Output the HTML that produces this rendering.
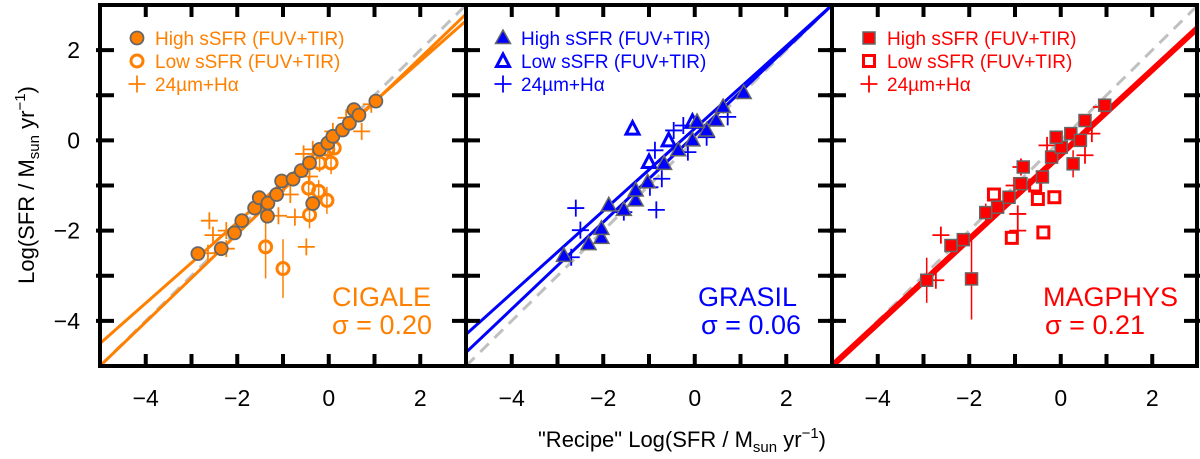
<!DOCTYPE html>
<html><head><meta charset="utf-8"><style>
body{margin:0;background:#fff;}
svg{display:block;font-family:"Liberation Sans",sans-serif;}
</style></head><body>
<svg id="chart" width="1200" height="459" viewBox="0 0 1200 459" xmlns="http://www.w3.org/2000/svg"></svg>
<script>
// ---- data ----
const xTicks = [-4, -3, -2, -1, 0, 1, 2];
const xTickLabels = ["\u22124", "", "\u22122", "", "0", "", "2"];
const yTicks = [-4, -3, -2, -1, 0, 1, 2];
const yTickLabels = ["\u22124", "", "\u22122", "", "0", "", "2"];
const panelNames = ["CIGALE", "GRASIL", "MAGPHYS"];
const panelSigma = ["0.20", "0.06", "0.21"];

const cigHighX = [-2.86,-2.35,-2.06,-1.9,-1.62,-1.52,-1.33,-1.34,-1.14,-1.03,-0.78,-0.6,-0.42,-0.2,-0.02,0.09,0.3,0.45,0.55,0.66,1.03,-0.35];
const cigHighY = [-2.51,-2.4,-2.05,-1.78,-1.5,-1.27,-1.39,-1.68,-1.2,-0.9,-0.86,-0.67,-0.5,-0.2,-0.06,0.09,0.23,0.38,0.68,0.56,0.87,-1.4];
const cigLowX = [-1.38,-1.0,-0.42,-0.44,-0.22,-0.04,0.05,-0.2,0.12,-0.02];
const cigLowY = [-2.36,-2.84,-1.65,-1.06,-1.13,-1.33,-0.5,-0.5,-0.17,-0.2];
const cigLowErr = [0.7,0.65,0.3,0.25,0.25,0.3,0.25,0.2,0.15,0.15];
const cigCrossX = [-2.61,-2.53,-2.24,-2.24,-2.64,-1.1,-0.74,-0.49,-0.84,-0.98,-0.55,-0.35,0.09,0.72,0.38,0.93,-0.42];
const cigCrossY = [-1.78,-2.1,-2.0,-2.4,-2.5,-1.67,-1.7,-2.36,-1.2,-0.95,-0.3,-0.2,0.2,0.2,0.5,0.8,-0.8];
const cigFitA = [-4.5, 2.65];
const cigFitB = [-5.0, 2.8];

const graHighX = [-2.86,-2.32,-2.04,-2.04,-1.88,-1.55,-1.29,-1.29,-1.03,-0.67,-0.36,-0.05,0.26,0.62,1.07,0.47,0.05];
const graHighY = [-2.56,-2.3,-2.16,-1.96,-1.44,-1.54,-1.33,-1.11,-0.93,-0.52,-0.22,0.0,0.22,0.74,1.05,0.44,0.41];
const graLowX = [-1.36,-1.0,-0.57,-0.05];
const graLowY = [0.26,-0.48,0.0,0.41];
const graLowErr = [0,0,0,0];
const graCrossX = [-2.6,-2.5,-2.7,-0.84,-0.98,-0.72,-0.87,-0.46,-0.25,0.26,0.72,-1.55,-0.15];
const graCrossY = [-1.5,-1.99,-2.59,-1.54,-1.04,-0.85,-0.22,0.22,0.33,0.07,0.52,-1.59,-0.26];
const graFitA = [-4.3, 3.0];
const graFitB = [-4.7, 3.0];

const magHighX = [-2.93,-2.4,-2.13,-1.95,-1.64,-1.38,-1.13,-0.87,-0.82,-0.4,-0.2,0.01,0.22,0.53,0.96,-0.1,0.43,0.27];
const magHighY = [-3.1,-2.33,-2.2,-3.07,-1.6,-1.48,-1.26,-0.96,-0.59,-0.81,-0.37,-0.15,0.15,0.44,0.78,0.07,0.0,-0.52];
const magHighErr = [0.5,0.1,0.1,0.9,0.2,0.15,0.15,0.15,0.1,0.15,0.1,0.1,0.1,0.1,0.1,0.1,0.1,0.3];
const magLowX = [-1.46,-1.07,-0.38,-0.5,-0.14,-0.56];
const magLowY = [-1.2,-2.16,-2.04,-1.3,-1.26,-1.0];
const magLowErr = [0,0,0,0,0,0];
const magCrossX = [-2.62,-2.73,-0.94,-0.94,-1.02,-0.87,0.53,0.68,0.89,-0.3];
const magCrossY = [-2.1,-3.1,-1.63,-2.0,-1.0,-0.59,-0.33,0.15,0.74,-0.11];
const magFitA = [-5.0, 2.5];

// ---- layout ----
const svg = document.getElementById('chart');
const NS = 'http://www.w3.org/2000/svg';
const panelLeft = [100, 466, 832];
const panelW = 366, top0 = 5, bot0 = 366;
const xMin = -5, xMax = 3, yMin = -5, yMax = 3;
const colors = ['#ff8000', '#0000ff', '#ff0000'];
function sx(p, v){ return panelLeft[p] + (v - xMin) / (xMax - xMin) * panelW; }
function sy(v){ return bot0 - (v - yMin) / (yMax - yMin) * (bot0 - top0); }
function mk(tag, attrs, parent){
  const e = document.createElementNS(NS, tag);
  for (const k in attrs) e.setAttribute(k, attrs[k]);
  (parent || svg).appendChild(e);
  return e;
}
const clip = mk('defs', {});
for (let p = 0; p < 3; p++){
  const cp = mk('clipPath', {id: 'clip' + p}, clip);
  mk('rect', {x: panelLeft[p], y: top0, width: panelW, height: bot0 - top0}, cp);
}

function drawShape(g, type, cx, cy, col){
  if (type === 'circleF') return mk('circle', {cx, cy, r: 6.5, fill: col, stroke: '#666', 'stroke-width': 1.8}, g);
  if (type === 'circleO') return mk('circle', {cx, cy, r: 6, fill: 'none', stroke: col, 'stroke-width': 3}, g);
  if (type === 'triF') return mk('polygon', {points: `${cx},${cy-8} ${cx-7.5},${cy+5.5} ${cx+7.5},${cy+5.5}`, fill: col, stroke: '#666', 'stroke-width': 1.5}, g);
  if (type === 'triO') return mk('polygon', {points: `${cx},${cy-7} ${cx-6.5},${cy+5.5} ${cx+6.5},${cy+5.5}`, fill: 'none', stroke: col, 'stroke-width': 3}, g);
  if (type === 'sqF') return mk('rect', {x: cx-6, y: cy-6, width: 12, height: 12, fill: col, stroke: '#666', 'stroke-width': 1.5}, g);
  if (type === 'sqO') return mk('rect', {x: cx-5.5, y: cy-5.5, width: 11, height: 11, fill: 'none', stroke: col, 'stroke-width': 3}, g);
  return mk('path', {d: `M${cx-8.5},${cy}H${cx+8.5}M${cx},${cy-8.5}V${cy+8.5}`, stroke: col, 'stroke-width': 1.8, fill: 'none'}, g);
}
function fitLine(g, p, ends, col, w){
  const e = mk('line', {x1: sx(p, xMin), y1: sy(ends[0]), x2: sx(p, xMax), y2: sy(ends[1]), stroke: col, 'stroke-width': w}, g);
  
  
}
function errBars(g, p, xs, ys, es, col){
  for (let i = 0; i < xs.length; i++){
    if (!es[i]) continue;
    const e = mk('line', {x1: sx(p, xs[i]), x2: sx(p, xs[i]), y1: sy(ys[i] - es[i]), y2: sy(ys[i] + es[i]), stroke: col, 'stroke-width': 1.5}, g);
    
    
  }
}
function series(g, p, xs, ys, type, col, name){
  for (let i = 0; i < xs.length; i++){
    const e = drawShape(g, type, sx(p, xs[i]), sy(ys[i]), col);
    
    
  }
}

const panelData = [
  {high: [cigHighX, cigHighY], low: [cigLowX, cigLowY, cigLowErr], cross: [cigCrossX, cigCrossY], fits: [cigFitA, cigFitB], types: ['circleF','circleO'], fitW: 3},
  {high: [graHighX, graHighY], low: [graLowX, graLowY, graLowErr], cross: [graCrossX, graCrossY], fits: [graFitA, graFitB], types: ['triF','triO'], fitW: 3},
  {high: [magHighX, magHighY], low: [magLowX, magLowY, magLowErr], cross: [magCrossX, magCrossY], fits: [magFitA], types: ['sqF','sqO'], fitW: 6}
];
const sigmaRight = [432, 801, 1145];
const nameRight = [431, 797, 1178];
const legX = [137, 503, 869];

for (let p = 0; p < 3; p++){
  const col = colors[p], d = panelData[p];
  const g = mk('g', {'clip-path': `url(#clip${p})`});
  
  
  const one = mk('line', {x1: sx(p, xMin), y1: sy(xMin), x2: sx(p, xMax), y2: sy(xMax), stroke: '#c0c0c0', 'stroke-width': 3, 'stroke-dasharray': '12,8'}, g);
  
  
  d.fits.forEach(f => fitLine(g, p, f, col, d.fitW));
  errBars(g, p, d.low[0], d.low[1], d.low[2], col);
  if (p === 2) errBars(g, p, magHighX, magHighY, magHighErr, col);
  series(g, p, d.cross[0], d.cross[1], 'cross', col, 'cross-point');
  series(g, p, d.low[0], d.low[1], d.types[1], col, 'low-ssfr-point');
  series(g, p, d.high[0], d.high[1], d.types[0], col, 'high-ssfr-point');

  xTicks.forEach((t, i) => {
    const x = sx(p, t);
    const tk = mk('path', {d: `M${x},${bot0+2}V${bot0-12}M${x},${top0-2}V${top0+12}`, stroke: '#000', 'stroke-width': 4});
    
    
    if (xTickLabels[i]){
      const tl = mk('text', {x, y: 406, 'font-size': 23, 'text-anchor': 'middle'});
      tl.textContent = xTickLabels[i];
      
      
    }
  });
  yTicks.forEach((t, i) => {
    const y = sy(t), L = panelLeft[p], R = L + panelW;
    const tk = mk('path', {d: `M${L-4},${y}H${L+14}M${R+4},${y}H${R-14}`, stroke: '#000', 'stroke-width': 4});
    
    
    if (p === 0 && yTickLabels[i]){
      const tl = mk('text', {x: 80, y: y + 8, 'font-size': 23, 'text-anchor': 'end'});
      tl.textContent = yTickLabels[i];
      
      
    }
  });
  const leg = mk('g', {});
  
  
  const labels = ['High sSFR (FUV+TIR)', 'Low sSFR (FUV+TIR)', '24\u00b5m+H\u03b1'];
  const types = [d.types[0], d.types[1], 'cross'];
  const rowY = [38, 61, 84];
  for (let r = 0; r < 3; r++){
    const m = drawShape(leg, types[r], legX[p], rowY[r], col);
    
    
    const t = mk('text', {x: legX[p] + 18, y: rowY[r] + 7, 'font-size': 19, fill: col}, leg);
    t.textContent = labels[r];
    
    
  }
  const nm = mk('text', {x: nameRight[p], y: 306, 'font-size': 27, fill: col, 'text-anchor': 'end'});
  nm.textContent = panelNames[p];
  
  
  const sg = mk('text', {x: sigmaRight[p], y: 334, 'font-size': 27, fill: col, 'text-anchor': 'end'});
  sg.textContent = '\u03c3 = ' + panelSigma[p];
  
  
}
const fr = mk('path', {d: `M100,5H1197V366H100Z M466,5V366 M832,5V366`, fill: 'none', stroke: '#000', 'stroke-width': 4});


const yt = mk('text', {x: 0, y: 0, 'font-size': 22, 'text-anchor': 'middle', transform: 'translate(34,185) rotate(-90)'});
yt.innerHTML = 'Log(SFR / M<tspan font-size="15" dy="5">sun</tspan><tspan dy="-5"> yr</tspan><tspan font-size="15" dy="-9">\u22121</tspan><tspan dy="9">)</tspan>';


const xt = mk('text', {x: 682, y: 447, 'font-size': 22, 'text-anchor': 'middle'});
xt.innerHTML = '"Recipe" Log(SFR / M<tspan font-size="15" dy="5">sun</tspan><tspan dy="-5"> yr</tspan><tspan font-size="15" dy="-9">\u22121</tspan><tspan dy="9">)</tspan>';


</script>
</body></html>
